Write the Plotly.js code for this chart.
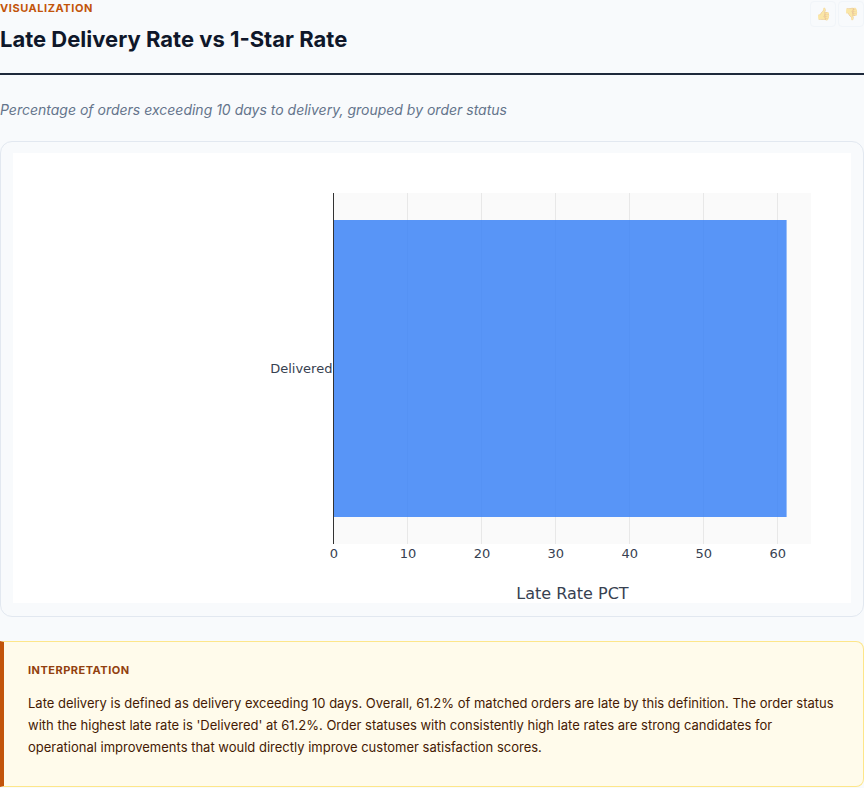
<!DOCTYPE html>
<html>
<head>
<meta charset="utf-8">
<script src="https://cdn.plot.ly/plotly-3.0.1.min.js"></script>
<style>
html,body{margin:0;padding:0;background:#f8fafc;width:864px;height:788px;overflow:hidden;font-family:Inter,sans-serif;}
.abs{position:absolute;white-space:nowrap;}
#kicker{left:0;top:1px;font-size:11px;font-weight:700;letter-spacing:.55px;color:#c2540a;line-height:14px;}
#title{left:0;top:24px;font-size:22px;font-weight:700;color:#0f172a;line-height:30px;}
#rule{position:absolute;left:0;top:73px;width:864px;height:2px;background:#1e293b;}
#sub{left:0;top:101px;font-size:14px;font-style:italic;color:#64748b;line-height:18px;}
#card{position:absolute;left:0;top:141px;width:862px;height:474px;border:1px solid #e2e8f0;border-radius:12px;background:#f8fafc;}
#plot{position:absolute;left:13px;top:153px;width:838px;height:450px;background:#fff;}
#note{position:absolute;left:0;top:641px;width:859px;height:144px;border:1px solid #fde68a;border-left:4px solid #c2540a;border-radius:0 8px 8px 0;background:#fffbeb;}
#noteh{left:28px;top:663px;font-size:11px;font-weight:700;letter-spacing:.5px;color:#92400e;line-height:14px;}
.line{left:28px;font-size:13px;color:#451a03;line-height:22px;}
.btn{position:absolute;top:1px;width:24px;height:24px;border:1px solid #f1f5f9;border-radius:4px;background:#f8fafc;font-size:12px;line-height:24px;text-align:center;color:#fcd34d;}
.btn span{opacity:.4;}
</style>
</head>
<body>
<div class="abs" id="kicker">VISUALIZATION</div>
<div class="abs" id="title">Late Delivery Rate vs 1-Star Rate</div>
<div class="btn" style="left:810px"><span>👍</span></div>
<div class="btn" style="left:838px"><span>👎</span></div>
<div id="rule"></div>
<div class="abs" id="sub">Percentage of orders exceeding 10 days to delivery, grouped by order status</div>
<div id="card"></div>
<div id="plot"></div>
<div id="note"></div>
<div class="abs" id="noteh">INTERPRETATION</div>
<div class="abs line" style="top:692px">Late delivery is defined as delivery exceeding 10 days. Overall, 61.2% of matched orders are late by this definition. The order status</div>
<div class="abs line" style="top:714px">with the highest late rate is 'Delivered' at 61.2%. Order statuses with consistently high late rates are strong candidates for</div>
<div class="abs line" style="top:736px">operational improvements that would directly improve customer satisfaction scores.</div>
<script>
const statuses = ["Delivered"];
const lateRatePct = [61.2];
const xTitle = "Late Rate PCT";

Plotly.newPlot("plot", [{
  type: "bar",
  orientation: "h",
  y: statuses,
  x: lateRatePct,
  width: 0.846,
  marker: {color: "#3b82f6", opacity: 0.85}
}], {
  width: 838,
  height: 450,
  paper_bgcolor: "#ffffff",
  plot_bgcolor: "#fafafa",
  margin: {l: 320.5, r: 40, t: 40, b: 59},
  showlegend: false,
  font: {family: "'DejaVu Sans', Verdana, sans-serif", color: "#374151", size: 13},
  xaxis: {
    range: [0, 64.5],
    dtick: 10,
    showgrid: true,
    gridcolor: "#e8e8e8",
    gridwidth: 1,
    zeroline: false,
    showline: false,
    ticks: "",
    tickfont: {size: 13, color: "#374151"},
    title: {text: xTitle, font: {size: 16, color: "#374151"}, standoff: 28}
  },
  yaxis: {
    type: "category",
    showgrid: false,
    zeroline: false,
    showline: true,
    linecolor: "#333333",
    linewidth: 1,
    ticks: "",
    ticklabelstandoff: -2,
    tickfont: {size: 13, color: "#374151"}
  }
}, {displayModeBar: false, responsive: false});
</script>
</body>
</html>
